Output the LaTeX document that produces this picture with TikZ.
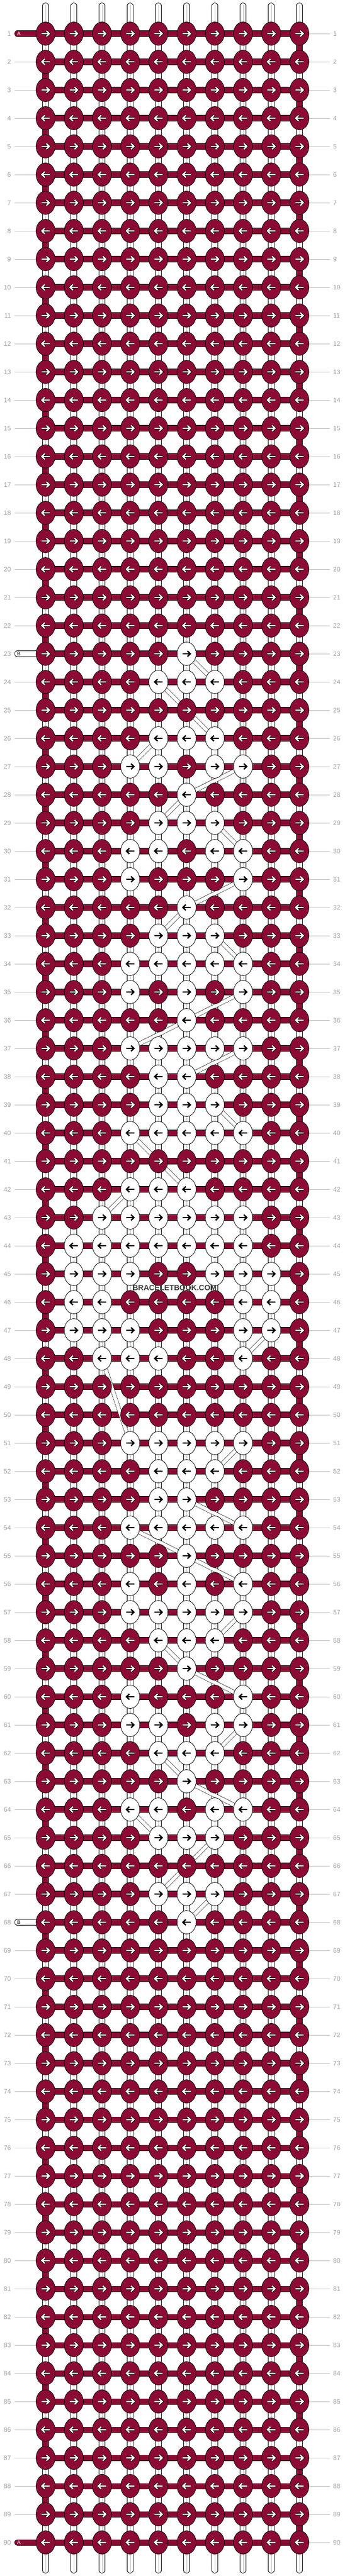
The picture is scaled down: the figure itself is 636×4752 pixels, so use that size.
\documentclass[tikz,border=0pt]{standalone}
\usepackage{fontspec}
\setmainfont{Liberation Sans}
\usetikzlibrary{shapes.geometric}

\definecolor{knotred}{RGB}{140,11,52}
\definecolor{numgray}{RGB}{160,160,160}
\definecolor{linegray}{RGB}{190,190,190}
\definecolor{markgray}{RGB}{60,60,60}

\pgfdeclarelayer{strings}
\pgfdeclarelayer{carry}
\pgfsetlayers{strings,carry,main}

% white knots of the motif: row/columns
\newcommand\whiteknots{23/6, 24/{5,6,7}, 26/{5,6,7}, 27/{4,5,7,8}, 28/6, 29/{5,6,7},
  30/{4,5,7,8}, 31/{4,8}, 32/6, 33/{5,6,7}, 34/{4,5,6,7,8}, 35/{4,6,8}, 36/6,
  37/{4,5,6,7,8}, 38/{5,6}, 39/{5,6,7}, 40/{4,5,6,7,8}, 42/{4,5,6}, 43/{3,4,5,6,7,8},
  44/{2,3,4,5,6,7,8}, 45/{2,3,4,7,8,9}, 46/{2,3,8,9}, 47/{2,3,4,8,9}, 48/{3,4,5,8},
  51/{4,5,6,7,8}, 52/{5,6,7}, 53/{5,6}, 54/{4,5,6,7,8}, 55/6, 56/{4,6,8},
  57/{4,5,6,7,8}, 58/{5,6,7}, 59/6, 60/{4,8}, 61/{4,5,7,8}, 62/{5,6,7}, 63/6,
  64/{4,5,7,8}, 65/{5,6,7}, 67/{5,6,7}, 68/6}

% string B carried from one white knot to the next
\newcommand\carrypath{23/6/24/7, 24/5/26/7, 26/5/27/4, 27/8/28/6, 28/6/29/5, 29/7/30/8,
  31/8/32/6, 32/6/33/5, 33/7/34/8, 35/8/36/6, 36/6/37/4, 37/8/38/6, 39/7/40/8,
  40/4/42/6, 42/4/43/3, 47/9/48/8, 48/3/51/4, 51/8/52/7, 53/6/54/8, 54/4/55/6,
  55/6/56/8, 57/8/58/7, 58/5/59/6, 59/6/60/8, 61/8/62/7, 62/5/63/6, 63/6/64/8,
  64/4/65/5, 65/7/67/5, 67/7/68/6}

\tikzset{
  knot/.style={ellipse, draw=black, line width=0.8pt, minimum width=35pt,
    minimum height=43pt, inner sep=0pt},
  weft/.style={draw=black, line width=0.8pt, double=knotred, double distance=9.5pt,
    shorten <=-3pt, shorten >=-3pt},
  warp/.style={weft, double=white},
  warpline/.style={draw=linegray, line width=0.9pt, shorten <=-3pt, shorten >=-3pt},
  bpath/.style={draw=black, line width=0.6pt, double=white, double distance=6.5pt,
    shorten <=-6pt, shorten >=-6pt},
  rowline/.style={draw=linegray, line width=0.9pt},
  rownum/.style={text=numgray, font=\fontsize{12}{12}\selectfont, inner sep=0pt},
  strlabel/.style={font=\fontsize{9.5}{9.5}\selectfont, inner sep=0pt, anchor=west},
  glyph/.pic={\draw (-7.5,0) -- (7,0) (1.5,-5.2) -- (7,0) -- (1.5,5.2);}
}

\foreach \row/\cols in \whiteknots {
  \foreach \col in \cols {\expandafter\gdef\csname wk-\row-\col\endcsname{}}
}

\begin{document}
\begin{tikzpicture}[x=1pt, y=-1pt]
\useasboundingbox (0,0) rectangle (636,4752);

% knots
\foreach \row in {1,...,90} {
  \pgfmathtruncatemacro\ypos{62+52*(\row-1)}
  \ifodd\row \def\dir{0}\else\def\dir{180}\fi
  \foreach \col in {1,...,10} {
    \ifcsname wk-\row-\col\endcsname
      \node[knot, fill=white] (k-\row-\col) at ({84+52*(\col-1)}, \ypos) {};
      \pic[rotate=\dir, black, line width=2.4pt] at (k-\row-\col) {glyph};
    \else
      \node[knot, fill=knotred] (k-\row-\col) at ({84+52*(\col-1)}, \ypos) {};
      \pic[rotate=\dir, black, line width=4.2pt] at (k-\row-\col) {glyph};
      \pic[rotate=\dir, white, line width=2.4pt] at (k-\row-\col) {glyph};
    \fi
  }
}

\begin{pgfonlayer}{strings}
% working string along each row
\foreach \row in {1,...,90} {
  \foreach \col [count=\nxt from 2] in {1,...,9}
    \draw[weft] (k-\row-\col) -- (k-\row-\nxt);
}
% base strings between rows, and the turns
\foreach \row [count=\below from 2] in {1,...,89} {
  \ifodd\row \def\turncol{10}\else\def\turncol{1}\fi
  \foreach \col in {1,...,10} {
    \ifnum\col=\turncol
      \draw[weft] (k-\row-\col) -- (k-\below-\col);
    \else
      \draw[warp] (k-\row-\col) -- (k-\below-\col);
      \draw[warpline] (k-\row-\col) -- (k-\below-\col);
    \fi
  }
}
% loose ends at top and bottom
\foreach \col in {1,...,10} {
  \coordinate (top-\col) at ({84+52*(\col-1)}, 10.5);
  \coordinate (bot-\col) at ({84+52*(\col-1)}, 4741.5);
  \draw[warp, line cap=round, shorten <=0pt] (top-\col) -- (k-1-\col);
  \draw[warpline, shorten <=-2pt] (top-\col) -- (k-1-\col);
  \draw[warp, line cap=round, shorten <=0pt] (bot-\col) -- (k-90-\col);
  \draw[warpline, shorten <=-2pt] (bot-\col) -- (k-90-\col);
}
% row numbers
\foreach \row in {1,...,90} {
  \pgfmathtruncatemacro\ypos{62+52*(\row-1)}
  \node[rownum, anchor=east] (nl-\row) at (20.5,\ypos) {\row};
  \node[rownum, anchor=west] (nr-\row) at (614,\ypos) {\row};
  \coordinate (er-\row) at (608,\ypos);
  \draw[rowline] (k-\row-10) -- (er-\row);
  \ifnum\row=1 \else\ifnum\row=23 \else\ifnum\row=68 \else\ifnum\row=90 \else
    \coordinate (el-\row) at (26.5,\ypos);
    \draw[rowline] (el-\row) -- (k-\row-1);
  \fi\fi\fi\fi
}
% strings A and B coming in
\foreach \row/\stubcol/\txtcol/\txt in {1/knotred/white/A, 23/white/black/B,
    68/white/black/B, 90/knotred/white/A} {
  \pgfmathtruncatemacro\ypos{62+52*(\row-1)}
  \coordinate (sl-\row) at (32,\ypos);
  \draw[weft, double=\stubcol, line cap=round, shorten <=0pt] (sl-\row) -- (k-\row-1);
  \node[strlabel, text=\txtcol] (str-\row) at (31.5,\ypos) {\txt};
}
\end{pgfonlayer}

\begin{pgfonlayer}{carry}
\foreach \ra/\ca/\rb/\cb in \carrypath
  \draw[bpath] (k-\ra-\ca) -- (k-\rb-\cb);
\end{pgfonlayer}

\node[font=\bfseries\fontsize{14}{14}\selectfont, text=markgray] (mark) at (322,2376)
  {BRACELETBOOK.COM};
\end{tikzpicture}
\end{document}
